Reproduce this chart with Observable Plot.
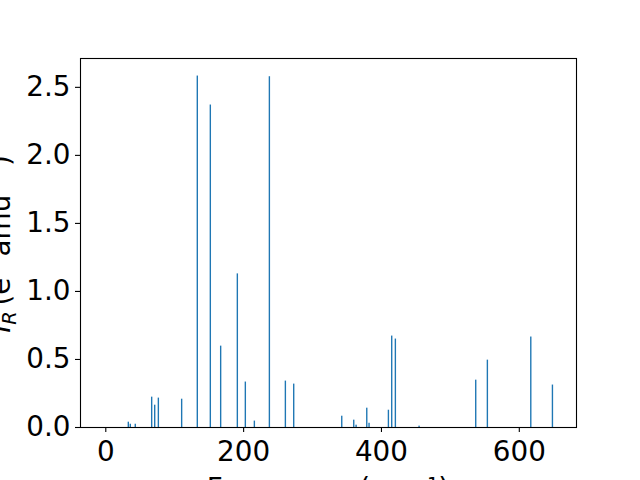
<!DOCTYPE html>
<html>
<head>
<meta charset="utf-8">
<script src="https://cdn.jsdelivr.net/npm/d3@7"></script>
<script src="https://cdn.jsdelivr.net/npm/@observablehq/plot@0.6"></script>
<style>
  html, body { margin: 0; padding: 0; background: #fff; }
  svg { display: block; }
</style>
</head>
<body>
<div id="chart"></div>
<script>
// Frequencies (cm^-1) and Raman intensities
const frequencies = [33.4, 36.3, 43.5, 67.3, 71.7, 77.0, 110.8, 133.5, 152.4, 167.4,
  191.6, 203.2, 216.3, 238.1, 261.3, 273.4, 343.1, 360.5, 363.9, 379.4,
  382.7, 410.8, 415.6, 420.9, 455.3, 537.5, 554.4, 617.4, 648.8];
const intensities = [0.039, 0.024, 0.024, 0.223, 0.164, 0.216, 0.208, 2.583, 2.370, 0.598,
  1.129, 0.334, 0.047, 2.578, 0.341, 0.319, 0.083, 0.054, 0.017, 0.142,
  0.031, 0.127, 0.672, 0.650, 0.010, 0.348, 0.495, 0.665, 0.312];
const xTicks = [0, 200, 400, 600];
const yTicks = [0.0, 0.5, 1.0, 1.5, 2.0, 2.5];
const xLabel = "Frequency (cm⁻¹)";

const data = frequencies.map((f, i) => ({f, v: intensities[i]}));
const halfWidth = 1;

const FONT = "DejaVu Sans, sans-serif";
const FS = 27.8;

const plot = Plot.plot({
  width: 640,
  height: 480,
  marginLeft: 80,
  marginRight: 64,
  marginTop: 58,
  marginBottom: 53,
  style: {fontFamily: FONT, fontSize: FS + "px", background: "#fff", color: "#000"},
  x: {domain: [-36.7, 683], ticks: xTicks},
  y: {domain: [0, 2.712], ticks: yTicks},
  marks: [
    Plot.rectY(data, {x1: d => d.f - halfWidth, x2: d => d.f + halfWidth, y: "v", fill: "#1f77b4", inset: 0}),
    Plot.frame({stroke: "#000", strokeWidth: 1.1}),
    Plot.axisX({ticks: xTicks, tickSize: 5, tickPadding: 9, tickFormat: d3.format("d"), label: null, fontSize: FS, strokeWidth: 1.1}),
    Plot.axisY({ticks: yTicks, tickSize: 5, tickPadding: 5, tickFormat: d3.format(".1f"), label: null, fontSize: FS, strokeWidth: 1.1})
  ]
});

document.getElementById("chart").appendChild(plot);

const svg = d3.select(plot);
// x label
svg.append("text")
  .attr("x", 328).attr("y", 498)
  .attr("text-anchor", "middle")
  .attr("font-family", FONT).attr("font-size", FS)
  .attr("fill", "#000")
  .text(xLabel);

// y label with sub/superscripts
const yl = svg.append("text")
  .attr("transform", "translate(10,244) rotate(-90)")
  .attr("text-anchor", "middle")
  .attr("font-family", FONT).attr("font-size", FS)
  .attr("fill", "#000");
yl.append("tspan").attr("font-style", "italic").text("I");
yl.append("tspan").attr("font-style", "italic").attr("font-size", FS * 0.7).attr("dy", 6).text("R");
yl.append("tspan").attr("dy", -6).text("\u2009(e");
yl.append("tspan").attr("font-size", FS * 0.7).attr("dy", -11).text("2");
yl.append("tspan").attr("dy", 11).text(" amu");
yl.append("tspan").attr("font-size", FS * 0.7).attr("dy", -11).text("−1");
yl.append("tspan").attr("dy", 11).text(")");
</script>
</body>
</html>
